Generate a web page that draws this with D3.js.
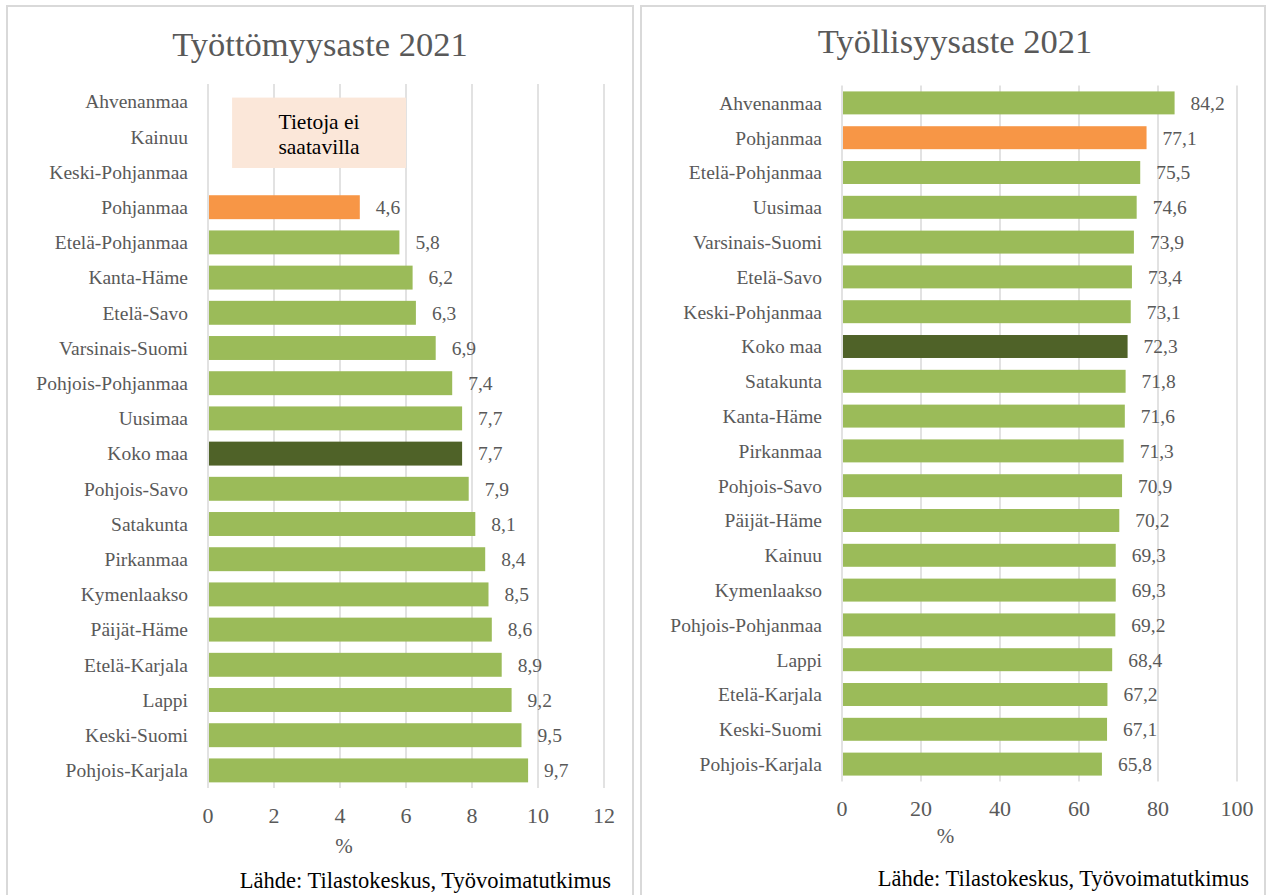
<!DOCTYPE html>
<html>
<head>
<meta charset="utf-8">
<script src="https://d3js.org/d3.v7.min.js"></script>
<style>
  body { margin: 0; background: #fff; }
  text { font-family: "Liberation Serif", serif; }
</style>
</head>
<body>
<div id="chart"></div>
<script>
// Työttömyysaste 2021 (null = ei tietoja)
var unempRegions = ["Ahvenanmaa","Kainuu","Keski-Pohjanmaa","Pohjanmaa","Etelä-Pohjanmaa","Kanta-Häme","Etelä-Savo","Varsinais-Suomi","Pohjois-Pohjanmaa","Uusimaa","Koko maa","Pohjois-Savo","Satakunta","Pirkanmaa","Kymenlaakso","Päijät-Häme","Etelä-Karjala","Lappi","Keski-Suomi","Pohjois-Karjala"];
var unempValues = [null,null,null,4.6,5.8,6.2,6.3,6.9,7.4,7.7,7.7,7.9,8.1,8.4,8.5,8.6,8.9,9.2,9.5,9.7];
var unempTicks = [0,2,4,6,8,10,12];

// Työllisyysaste 2021
var empRegions = ["Ahvenanmaa","Pohjanmaa","Etelä-Pohjanmaa","Uusimaa","Varsinais-Suomi","Etelä-Savo","Keski-Pohjanmaa","Koko maa","Satakunta","Kanta-Häme","Pirkanmaa","Pohjois-Savo","Päijät-Häme","Kainuu","Kymenlaakso","Pohjois-Pohjanmaa","Lappi","Etelä-Karjala","Keski-Suomi","Pohjois-Karjala"];
var empValues = [84.2,77.1,75.5,74.6,73.9,73.4,73.1,72.3,71.8,71.6,71.3,70.9,70.2,69.3,69.3,69.2,68.4,67.2,67.1,65.8];
var empTicks = [0,20,40,60,80,100];

var GREEN = "#9bbb59", ORANGE = "#f79646", DARK = "#4f6228", GRID = "#d9d9d9", TXT = "#595959";

var svg = d3.select("#chart").append("svg")
  .attr("width", 1271).attr("height", 895);

function color(name) {
  if (name === "Pohjanmaa") return ORANGE;
  if (name === "Koko maa") return DARK;
  return GREEN;
}

function panel(opt) {
  var g = svg.append("g");
  // frame
  g.append("rect")
    .attr("x", opt.box[0]).attr("y", opt.box[1])
    .attr("width", opt.box[2]).attr("height", opt.box[3])
    .attr("fill", "#fff").attr("stroke", GRID).attr("stroke-width", 2);

  var x = d3.scaleLinear().domain([0, opt.ticks[opt.ticks.length - 1]]).range(opt.xr);
  var y = d3.scaleBand().domain(opt.regions).range(opt.yr).paddingInner(opt.pad).paddingOuter(opt.pad / 2);

  g.selectAll(".grid").data(opt.ticks).enter().append("line")
    .attr("x1", d => x(d)).attr("x2", d => x(d))
    .attr("y1", opt.yr[0]).attr("y2", opt.yr[1])
    .attr("stroke", GRID).attr("stroke-width", 1.5);

  var rows = opt.regions.map((r, i) => ({ name: r, value: opt.values[i] }));

  g.selectAll(".bar").data(rows.filter(d => d.value != null)).enter().append("rect")
    .attr("x", x(0) + 1)
    .attr("y", d => y(d.name))
    .attr("width", d => x(d.value) - x(0) - 1)
    .attr("height", y.bandwidth())
    .attr("fill", d => color(d.name));

  g.selectAll(".val").data(rows.filter(d => d.value != null)).enter().append("text")
    .attr("x", d => x(d.value) + 16)
    .attr("y", d => y(d.name) + y.bandwidth() / 2)
    .attr("dy", "0.35em")
    .attr("font-size", 19.5).attr("fill", TXT)
    .text(d => String(d.value.toFixed(1)).replace(".", ","));

  g.selectAll(".cat").data(rows).enter().append("text")
    .attr("x", x(0) - 20)
    .attr("y", d => y(d.name) + y.bandwidth() / 2)
    .attr("dy", "0.35em")
    .attr("text-anchor", "end")
    .attr("font-size", 19.5).attr("fill", TXT)
    .text(d => d.name);

  g.selectAll(".tick").data(opt.ticks).enter().append("text")
    .attr("x", d => x(d)).attr("y", opt.tickY)
    .attr("dy", "0.35em").attr("text-anchor", "middle")
    .attr("font-size", 22).attr("fill", TXT)
    .text(d => d);

  g.append("text").attr("x", x(opt.ticks[opt.ticks.length - 1] / 2) + opt.pctShift).attr("y", opt.pctY)
    .attr("dy", "0.35em").attr("text-anchor", "middle")
    .attr("font-size", 21).attr("fill", TXT).text("%");

  g.append("text").attr("x", opt.titleX).attr("y", opt.titleY)
    .attr("text-anchor", "middle").attr("font-size", 34.5).attr("fill", TXT)
    .text(opt.title);

  g.append("text").attr("x", opt.srcX).attr("y", opt.srcY)
    .attr("dy", "0.35em").attr("text-anchor", "end")
    .attr("font-size", 22.5).attr("fill", "#000")
    .text("Lähde: Tilastokeskus, Työvoimatutkimus");

  return { g: g, x: x, y: y };
}

var left = panel({
  box: [7, 6, 626, 900], regions: unempRegions, values: unempValues, ticks: unempTicks,
  xr: [208, 604], yr: [84, 788], pad: 0.32, tickY: 815, pctY: 846, pctShift: -62,
  title: "Työttömyysaste 2021", titleX: 320, titleY: 56, srcX: 611, srcY: 880
});

var right = panel({
  box: [641, 6, 624, 900], regions: empRegions, values: empValues, ticks: empTicks,
  xr: [842, 1237], yr: [85.5, 781.5], pad: 0.34, tickY: 808, pctY: 836, pctShift: -94,
  title: "Työllisyysaste 2021", titleX: 955, titleY: 53, srcX: 1249, srcY: 878
});

// "Tietoja ei saatavilla" note over missing rows
var note = left.g.append("g");
var nx0 = left.x(0.73), nx1 = left.x(6);
var ny0 = left.y("Ahvenanmaa") + left.y.bandwidth() / 2 - 4;
var ny1 = left.y("Keski-Pohjanmaa") + left.y.bandwidth() / 2 - 4;
note.append("rect").attr("x", nx0).attr("y", ny0)
  .attr("width", nx1 - nx0).attr("height", ny1 - ny0).attr("fill", "#fbe7d9");
note.append("text").attr("x", (nx0 + nx1) / 2).attr("y", left.y("Kainuu") + left.y.bandwidth() / 2 - 15)
  .attr("dy", "0.35em").attr("text-anchor", "middle").attr("font-size", 21.5).attr("fill", "#000")
  .text("Tietoja ei");
note.append("text").attr("x", (nx0 + nx1) / 2).attr("y", left.y("Kainuu") + left.y.bandwidth() / 2 + 10)
  .attr("dy", "0.35em").attr("text-anchor", "middle").attr("font-size", 21.5).attr("fill", "#000")
  .text("saatavilla");
</script>
</body>
</html>
